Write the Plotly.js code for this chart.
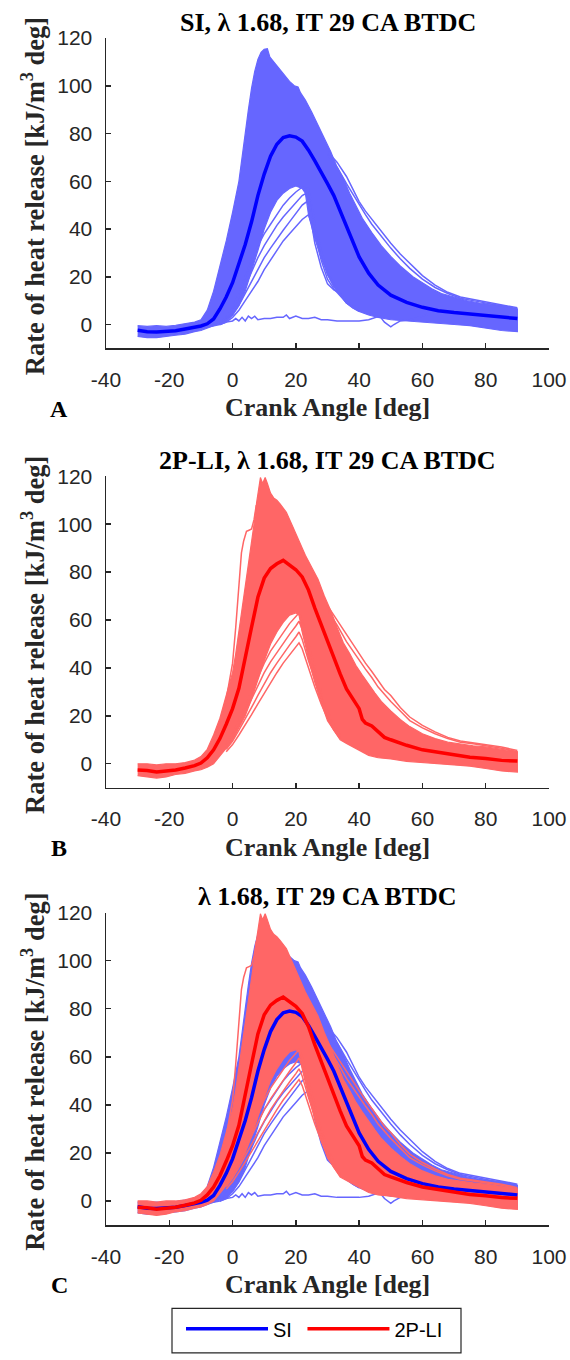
<!DOCTYPE html>
<html><head><meta charset="utf-8">
<script src="https://cdn.plot.ly/plotly-3.0.1.min.js"></script>
<style>html,body{margin:0;padding:0;background:#fff}#chart{width:570px;height:1360px}</style>
</head><body><div id="chart"></div>
<script>
// ---------------- DATA ----------------
const xTickVals = [-40, -20, 0, 20, 40, 60, 80, 100];
const xTickText = ['-40', '-20', '0', '20', '40', '60', '80', '100'];
const yTickVals = [0, 20, 40, 60, 80, 100, 120];
const yTickText = ['0', '20', '40', '60', '80', '100', '120'];
const panelTitles = ['SI, λ 1.68, IT 29 CA BTDC', '2P-LI, λ 1.68, IT 29 CA BTDC', 'λ 1.68, IT 29 CA BTDC'];
const panelLetters = ['A', 'B', 'C'];
const seriesNames = ['SI', '2P-LI'];

// SI: cycle-averaged rate of heat release
const siMeanX = [-30,-27,-24,-21,-18,-15,-12,-10,-8,-6,-4,-2,0,2,4,6,8,10,12,14,16,18,20,22,24,26,28,30,32,34,36,38,40,43,46,50,55,60,65,70,75,80,85,90];
const siMeanY = [-2.4,-3.0,-3.1,-2.8,-2.6,-1.9,-1.2,-0.6,0.3,2.3,6.5,11.5,17.5,25,33.5,43,54,63,70.5,75.5,78.3,79,78.5,76.8,73,68.5,64,59,54,47.5,40.5,34,28.3,21.5,16.5,12.3,9.3,7.2,5.8,5.0,4.4,3.8,3.2,2.5];
// SI: upper edge of the dense band of individual cycles
const siUpX = [-30,-27,-24,-21,-18,-15,-12,-10,-8,-6,-4,-2,0,2,3,4,5,6,7,8,9,10,11,11.8,13,14.5,16,18,19.5,20.7,21.5,23,25,27,29,31,33,35,37,39,41,44,47,50,53,57,60,63,66,70,74,78,82,86,90];
const siUpY = [-0.5,-0.8,-0.5,-0.8,-0.3,0.3,1,2,6,14,24,35,47,60,70,81,90,99,106,111,114,115.3,115.5,112,110,108,105,101.8,100,99.5,97,94,89,83.5,77.5,72.5,66,61,55,49.5,44.5,38.5,33,28.5,24.5,20,17.5,15,13,11.5,10,9,8.3,7.8,6.5];
// SI: lower edge of the dense band
const siLoX = [-30,-27,-24,-21,-18,-15,-12,-10,-8,-6,-4,-2,0,2,4,6,8,10,12,14,16,18,20,22,23,24,26,28,30,32,34,36,38,40,43,46,50,55,60,65,70,75,80,85,90];
const siLoY = [-5,-5.5,-5.5,-5,-4.5,-4,-3,-2.5,-1.5,-0.5,0.5,1.5,4,8,14,22,31,40,47,52,55,57,58,57,55,46,36,28,21,16,12.5,9,7,5.5,4,3,2,1.5,1,0.5,0,-0.5,-1.5,-2.5,-3];
// SI: slow-burning cycles
const siSlowX = [-4,-2,0,2,4,6,8,10,12,14,16,18,20,22,24,25,26,28,30,32,34,36,38,40];
const siSlow1 = [0,1,3,6,10,14,18,23,27,31,35,38,41,44,46,42,34,24,17,14.5,13,9,7.5,6];
const siSlow2 = [0,1.5,4,8,13,18,23,28,32,36,39.5,43,46.5,50,52,47,38,27,19,15,12,9,7,5.5];
const siSlow3 = [0.5,2,5,10,16,22,28,33,37.5,41.5,45,48,51,54,55.5,50,41,30,21,16,12.5,9.5,7.5,6];
const siSlow4 = [1,3,7,13,20,27,33,38,42,46,50,53,55.5,57.5,57,51,42,31,22,17,13,10,8,6.5];
// SI: long-tail cycles above the band
const siTailX = [30,33,36,38,40,42,44,46,48,50,53,56,60,64,68,72,76,80,85,90];
const siTail1 = [72.5,68,62,57,51.5,47.5,44,41,37.5,34,29.5,25.5,20.5,16.5,13.5,11.5,10.5,9.5,8.5,7];
const siTail2 = [71,66,59,54.5,50,46,42,38.5,35.5,32,27.5,23.5,19,15.5,13,11,10,9,8,6.5];
// SI: misfiring cycle
const siMisX = [-8,-4,-2,0,1,2,3,4,5,6,7,8,10,12,14,16,17,18,20,22,24,26,28,30,33,36,40,43,45,46.5,48,50,51,53,56,59,62];
const siMisY = [-1,0,1,1.5,2.5,1.5,3,1.5,3.5,2.5,3.5,2,2.5,2.5,3,3,4,2.5,3.5,2.5,2.5,3,2,2,1.5,1.5,1.5,2,3,3.5,1,-1,0,1.5,2,3,4.5];

// 2P-LI: cycle-averaged rate of heat release
const lpMeanX = [-30,-27,-24,-21,-18,-15,-12,-10,-8,-6,-4,-2,0,2,4,6,8,10,12,14,16,18,20,22,24,26,28,30,32,34,36,38,40,41,42,44,46,48,50,55,60,65,70,75,80,85,90];
const lpMeanY = [-2.6,-2.8,-3.4,-3.0,-2.6,-1.8,-0.8,0.3,2.5,5.8,10.5,16.5,23,31.5,43.5,57,69.5,77.5,81.5,83.5,84.9,83,81,78,72.5,65,58,51,43.5,37.5,31.2,27,23,18.5,17,15.8,13.5,11,10,7.7,5.8,4.7,3.7,2.7,2.2,1.4,1.1];
// 2P-LI: upper edge of the dense band
const lpUpX = [-30,-27,-24,-21,-18,-15,-12,-10,-8,-6,-4,-2,0,1,2,3,4,5,6,7,7.6,8.3,8.8,9.5,10.3,11,12,13,14,15,17,19,21,23,25,27,29,31,33,35,37,39,41,43,45,47,50,53,56,60,64,68,72,76,80,85,90];
const lpUpY = [0,0,-0.5,0,0,0.5,1.5,3,6,12,19,28,38,46,55,64,74,84,93,102,109,116,119.5,117,119.5,117,113,111,110,108.5,105,99,93,87,82,77,70,64,57,50.5,46,41,37,33,29.5,26,22,18.5,15.5,12.5,10.5,9,8.2,7.5,7,6,5];
// 2P-LI: lower edge of the dense band
const lpLoX = [-30,-27,-24,-21,-18,-15,-12,-10,-8,-6,-4,-2,0,2,4,6,8,10,12,14,16,18,20,21,22,24,26,28,30,32,34,36,38,40,43,46,50,55,60,65,70,75,80,85,90];
const lpLoY = [-5,-5.5,-6,-5.5,-4.5,-4,-3,-2.5,-1.5,0,3,6.5,10,15,20,27,35,43,50,55,59,62,63,62,55,44,34,25.5,18,14,10,8.5,7,5.5,3.5,2.5,2,1,0.5,0,-0.5,-1,-2,-3,-3.5];
// 2P-LI: slow-burning cycles
const lpSlowX = [-2,0,2,4,6,8,10,12,14,16,18,20,21,22,23,24,26,28,30,32,34];
const lpSlow1 = [5,8,12,16,20.5,25,29.5,34,38,42,45.5,48.5,50.5,48,44,40,32,25,19,14,10.5];
const lpSlow2 = [6,9.5,14,18.5,23.5,28.5,33.5,38,42,46,49.5,53,55,52,47,43,35,27,20,14.5,11];
const lpSlow3 = [7,11,16,21.5,27,32.5,38,42.5,46.5,50.5,54,57.5,59.5,56,51,46,37,28,21,15,11.5];
const lpSlow4 = [8,12.5,18,24,30.5,36.5,42,47,51,55,58.5,61.5,63,60,55,50,40,30,22,16,12];
// 2P-LI: fast cycle on the leading edge
const lpFastX = [-6,-4,-2,0,1,2,2.8,3.5,4.4,5.2,6,6.8,7.5];
const lpFastY = [10,17,27,42,57,74,88,93,97,97.5,98,102,108];
// 2P-LI: long-tail cycles above the band
const lpTailX = [30,33,36,38,40,42,44,46,48,50,53,56,60,64,68,72,76,80,85,90];
const lpTail1 = [66,60,54,50,45.5,42,38.5,34.5,31,28.5,23.5,19.5,16,13.3,11,9.5,8.8,8,7,5.5];
const lpTail2 = [64,58,51,47,43,39.5,36,32,29,26,22,18,15,12.5,10.5,9,8.3,7.5,6.5,5];

// ---------------- DRAWING ----------------
const PL = 106, PR = 549, PT = 38, PB = 1235;
const px2x = p => (p - PL) / (PR - PL);
const py2y = p => (PB - p) / (PB - PT);
const BLUE_C = '#6666FF', BLUE_M = '#0000FF', RED_C = '#FF6666', RED_M = '#FF0000';
const AX_COL = '#262626';
const SANS = 'Liberation Sans, Arial, Helvetica, sans-serif';
const SERIF = 'Liberation Serif, Times New Roman, serif';

function axRef(n) { return n === 1 ? '' : String(n); }
function band(xa, ya, xb, yb, color, n) {
  return {x: xa.concat(xb.slice().reverse()), y: ya.concat(yb.slice().reverse()),
    type: 'scatter', mode: 'lines', fill: 'toself', fillcolor: color,
    line: {color: color, width: 1.2}, xaxis: 'x' + axRef(n), yaxis: 'y' + axRef(n),
    showlegend: false, hoverinfo: 'skip'};
}
function ln(x, y, color, w, n, name, leg) {
  return {x: x, y: y, type: 'scatter', mode: 'lines', line: {color: color, width: w},
    xaxis: 'x' + axRef(n), yaxis: 'y' + axRef(n), name: name || 'cycle', showlegend: !!leg, hoverinfo: 'skip'};
}
function siCycles(n) {
  return [band(siUpX, siUpY, siLoX, siLoY, BLUE_C, n),
    ln(siSlowX, siSlow1, BLUE_C, 1.5, n), ln(siSlowX, siSlow2, BLUE_C, 1.5, n),
    ln(siSlowX, siSlow3, BLUE_C, 1.5, n), ln(siSlowX, siSlow4, BLUE_C, 1.5, n),
    ln(siTailX, siTail1, BLUE_C, 1.5, n), ln(siTailX, siTail2, BLUE_C, 1.5, n),
    ln(siMisX, siMisY, BLUE_C, 1.5, n)];
}
function lpCycles(n) {
  return [band(lpUpX, lpUpY, lpLoX, lpLoY, RED_C, n),
    ln(lpSlowX, lpSlow1, RED_C, 1.5, n), ln(lpSlowX, lpSlow2, RED_C, 1.5, n),
    ln(lpSlowX, lpSlow3, RED_C, 1.5, n), ln(lpSlowX, lpSlow4, RED_C, 1.5, n),
    ln(lpTailX, lpTail1, RED_C, 1.5, n), ln(lpTailX, lpTail2, RED_C, 1.5, n),
    ln(lpFastX, lpFastY, RED_C, 1.5, n)];
}
const traces = [].concat(
  siCycles(1), [ln(siMeanX, siMeanY, BLUE_M, 3.5, 1)],
  lpCycles(2), [ln(lpMeanX, lpMeanY, RED_M, 3.5, 2)],
  siCycles(3), lpCycles(3),
  [ln(siMeanX, siMeanY, BLUE_M, 3.5, 3, seriesNames[0] + '\u00a0', true),
   ln(lpMeanX, lpMeanY, RED_M, 3.5, 3, seriesNames[1], true)]
);

const tickfont = {family: SANS, size: 21, color: AX_COL};
function xAxis(anchor) {
  return {anchor: anchor, domain: [0, 1], range: [-40, 100], tickmode: 'array',
    tickvals: xTickVals, ticktext: xTickText, showgrid: false, zeroline: false,
    showline: true, linecolor: AX_COL, linewidth: 1.5, ticks: 'inside', ticklen: 5,
    tickwidth: 1.5, tickcolor: AX_COL, tickfont: tickfont, ticklabelstandoff: 12, fixedrange: true};
}
function yAxis(anchor, dom) {
  return {anchor: anchor, domain: dom, range: [-10, 120], tickmode: 'array',
    tickvals: yTickVals, ticktext: yTickText, showgrid: false, zeroline: false,
    showline: true, linecolor: AX_COL, linewidth: 1.5, ticks: 'inside', ticklen: 5,
    tickwidth: 1.5, tickcolor: AX_COL, tickfont: tickfont, ticklabelstandoff: 8, fixedrange: true};
}
const panelTop = [38, 480, 920], panelBot = [351, 794, 1235];

const annotations = [];
for (let i = 0; i < 3; i++) {
  annotations.push({text: '<b>' + panelTitles[i] + '</b>', xref: 'paper', yref: 'paper',
    x: 0.5, y: py2y(panelTop[i] - 16), xanchor: 'center', yanchor: 'middle', showarrow: false,
    font: {family: SERIF, size: 26, color: '#000'}});
  annotations.push({text: '<b>Rate of heat release [kJ/m<sup>3</sup> deg]</b>', xref: 'paper', yref: 'paper',
    x: px2x(33), y: py2y((panelTop[i] + panelBot[i]) / 2 + 3), textangle: -90, xanchor: 'center', yanchor: 'middle',
    showarrow: false, font: {family: SERIF, size: 26.5, color: AX_COL}});
  annotations.push({text: '<b>Crank Angle [deg]</b>', xref: 'paper', yref: 'paper',
    x: 0.5, y: py2y(panelBot[i] + 60), xanchor: 'center', yanchor: 'middle', showarrow: false,
    font: {family: SERIF, size: 26, color: AX_COL}});
  annotations.push({text: '<b>' + panelLetters[i] + '</b>', xref: 'paper', yref: 'paper',
    x: px2x(59), y: py2y(panelBot[i] + 61), xanchor: 'center', yanchor: 'middle', showarrow: false,
    font: {family: SERIF, size: 24, color: '#000'}});
}

const layout = {
  width: 570, height: 1360, margin: {l: PL, r: 570 - PR, t: PT, b: 1360 - PB, pad: 0},
  paper_bgcolor: '#fff', plot_bgcolor: '#fff', showlegend: true,
  xaxis: xAxis('y'), yaxis: yAxis('x', [py2y(351), 1]),
  xaxis2: xAxis('y2'), yaxis2: yAxis('x2', [py2y(794), py2y(480)]),
  xaxis3: xAxis('y3'), yaxis3: yAxis('x3', [0, py2y(920)]),
  legend: {orientation: 'h', x: px2x(181), xanchor: 'left', y: py2y(1320), yanchor: 'top',
    bgcolor: 'rgba(0,0,0,0)', borderwidth: 0, itemwidth: 82,
    font: {family: SANS, size: 20, color: '#000'}},
  shapes: [{type: 'rect', xref: 'paper', yref: 'paper', x0: px2x(172), x1: px2x(461),
    y0: py2y(1319), y1: py2y(1364), line: {color: AX_COL, width: 1.2}, fillcolor: 'rgba(0,0,0,0)'}],
  annotations: annotations
};
Plotly.newPlot('chart', traces, layout, {staticPlot: true, displayModeBar: false});
</script></body></html>
